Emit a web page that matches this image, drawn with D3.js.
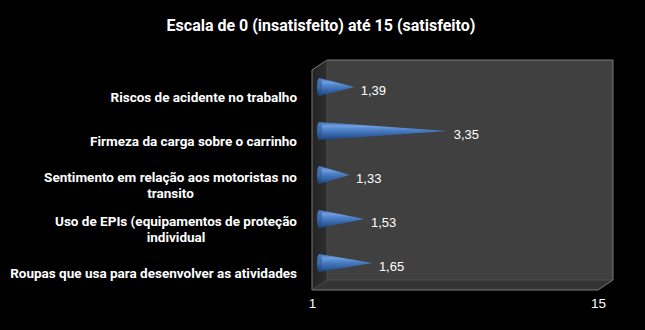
<!DOCTYPE html>
<html>
<head>
<meta charset="utf-8">
<script src="https://cdn.jsdelivr.net/npm/d3@7"></script>
<style>
  html, body { margin: 0; padding: 0; background: #000; }
  svg { display: block; }
  text { fill: #fff; }
  .lbl { font-family: Roboto, "Liberation Sans", sans-serif; font-weight: bold; }
  .num { font-family: "Liberation Sans", Arial, sans-serif; }
</style>
</head>
<body>
<svg id="chart" width="645" height="330"></svg>
<script>
// Survey items (top to bottom) and their mean satisfaction scores
const categories = [
  "Riscos de acidente no trabalho",
  "Firmeza da carga sobre o carrinho",
  "Sentimento em relação aos motoristas no transito",
  "Uso de EPIs (equipamentos de proteção individual",
  "Roupas que usa para desenvolver as atividades"
];
const values = [1.39, 3.35, 1.33, 1.53, 1.65];
const axisTicks = [1, 15];
const title = "Escala de 0 (insatisfeito) até 15 (satisfeito)";

(function draw() {
  const svg = d3.select("#chart");

  // Front plane of the 3D box; the back wall is shifted by (depthX, depthY)
  const plotLeft = 312, plotRight = 598, plotTop = 70, plotBottom = 290;
  const depthX = 15, depthY = -10;

  const x = d3.scaleLog().domain([axisTicks[0], axisTicks[axisTicks.length - 1]]).range([plotLeft, plotRight]);
  const y = d3.scaleBand().domain(categories).range([plotTop, plotBottom]);

  const ptBR = d3.formatLocale({ decimal: ",", thousands: ".", grouping: [3], currency: ["R$", ""] });
  const fmt = ptBR.format(".2f");

  const defs = svg.append("defs");

  // Cone shading: lighter along the upper side, dark underneath
  const coneGrad = defs.append("linearGradient")
    .attr("id", "coneGrad").attr("x1", 0).attr("y1", 0).attr("x2", 0).attr("y2", 1);
  [["0%", "#3a6aad"], ["22%", "#6f9fe0"], ["45%", "#4c7fc6"], ["80%", "#2d5a9c"], ["100%", "#1d3f73"]]
    .forEach(([o, c]) => coneGrad.append("stop").attr("offset", o).attr("stop-color", c));

  const baseGrad = defs.append("linearGradient")
    .attr("id", "baseGrad").attr("x1", 0).attr("y1", 0).attr("x2", 0).attr("y2", 1);
  [["0%", "#4a7cc0"], ["50%", "#3a68a8"], ["100%", "#1f4278"]]
    .forEach(([o, c]) => baseGrad.append("stop").attr("offset", o).attr("stop-color", c));

  const sideGrad = defs.append("linearGradient")
    .attr("id", "sideGrad").attr("x1", 0).attr("y1", 0).attr("x2", 1).attr("y2", 0);
  [["0%", "#242424"], ["100%", "#2e2e2e"]]
    .forEach(([o, c]) => sideGrad.append("stop").attr("offset", o).attr("stop-color", c));

  // Title
  svg.append("text")
    .attr("class", "lbl")
    .attr("x", 321).attr("y", 31)
    .attr("text-anchor", "middle")
    .attr("font-size", 16)
    .text(title);

  // Box: back wall, side wall, floor
  const x0 = x.range()[0], x1 = x.range()[1];
  const box = svg.append("g");
  box.append("rect")
    .attr("x", x0 + depthX).attr("y", plotTop + depthY)
    .attr("width", x1 - x0).attr("height", plotBottom - plotTop)
    .attr("fill", "#404040");
  box.append("polygon")
    .attr("points", [[x0, plotTop], [x0 + depthX, plotTop + depthY], [x0 + depthX, plotBottom + depthY], [x0, plotBottom]].join(" "))
    .attr("fill", "url(#sideGrad)");
  box.append("polygon")
    .attr("points", [[x0, plotBottom], [x0 + depthX, plotBottom + depthY], [x1 + depthX, plotBottom + depthY], [x1, plotBottom]].join(" "))
    .attr("fill", "#343434");
  // edges
  box.append("path")
    .attr("d", `M${x0},${plotBottom}L${x0},${plotTop}L${x0 + depthX},${plotTop + depthY}L${x1 + depthX},${plotTop + depthY}L${x1 + depthX},${plotBottom + depthY}L${x1},${plotBottom}Z`)
    .attr("fill", "none").attr("stroke", "#7a7a7a").attr("stroke-width", 1);
  box.append("path")
    .attr("d", `M${x0},${plotBottom}L${x0 + depthX},${plotBottom + depthY}L${x1 + depthX},${plotBottom + depthY}`)
    .attr("fill", "none").attr("stroke", "#555").attr("stroke-width", 0.8);
  box.append("line")
    .attr("x1", x0 + depthX).attr("x2", x0 + depthX)
    .attr("y1", plotTop + depthY).attr("y2", plotBottom + depthY)
    .attr("stroke", "#4a4a4a").attr("stroke-width", 1);

  // Cones sit halfway into the box depth
  const midX = depthX / 2, midY = depthY / 2;
  const coneHalf = y.bandwidth() * 0.205;
  const cones = svg.append("g").selectAll("g")
    .data(categories.map((c, i) => ({ c, v: values[i] })))
    .join("g");

  cones.append("path")
    .attr("d", d => {
      const bx = x(axisTicks[0]) + midX, tx = x(d.v) + midX;
      const cy = y(d.c) + y.bandwidth() / 2 + midY;
      return `M${bx},${cy - coneHalf}L${tx},${cy}L${bx},${cy + coneHalf}Z`;
    })
    .attr("fill", "url(#coneGrad)");

  cones.append("ellipse")
    .attr("cx", x(axisTicks[0]) + midX)
    .attr("cy", d => y(d.c) + y.bandwidth() / 2 + midY)
    .attr("rx", 2.6).attr("ry", coneHalf)
    .attr("fill", "url(#baseGrad)");

  // Value labels
  cones.append("text")
    .attr("class", "num")
    .attr("x", d => x(d.v) + midX + 6.5)
    .attr("y", d => y(d.c) + y.bandwidth() / 2 + midY + 7.6)
    .attr("font-size", 13)
    .text(d => fmt(d.v));

  // Category labels, wrapped to fit left of the box
  const labelRight = 297, maxLabel = 296, fs = 13.5, lh = 16;
  const catG = svg.append("g");
  categories.forEach(c => {
    const cy = y(c) + y.bandwidth() / 2;
    const probe = catG.append("text").attr("class", "lbl").attr("font-size", fs);
    const width = s => { probe.text(s); return probe.node().getComputedTextLength(); };
    const lines = [];
    let cur = [];
    c.split(" ").forEach(w => {
      if (cur.length && width(cur.concat([w]).join(" ")) > maxLabel) {
        lines.push(cur.join(" "));
        cur = [w];
      } else cur.push(w);
    });
    lines.push(cur.join(" "));
    const firstW = width(lines[0]);
    probe.remove();
    const center = labelRight - firstW / 2;
    lines.forEach((ln, k) => {
      catG.append("text")
        .attr("class", "lbl")
        .attr("x", center)
        .attr("y", cy + 9.5 + (k - (lines.length - 1) / 2) * lh)
        .attr("text-anchor", "middle")
        .attr("font-size", fs)
        .text(ln);
    });
  });

  // Value axis: only the end ticks are labelled
  const axis = d3.axisBottom(x).tickValues(axisTicks).tickFormat(d3.format("d")).tickSize(0);
  const axG = svg.append("g").attr("transform", `translate(0,${plotBottom + 5})`).call(axis);
  axG.select(".domain").remove();
  axG.selectAll("text")
    .attr("class", "num")
    .attr("font-size", 13.5).attr("font-family", null)
    .attr("fill", "#fff");
})();
</script>
</body>
</html>
